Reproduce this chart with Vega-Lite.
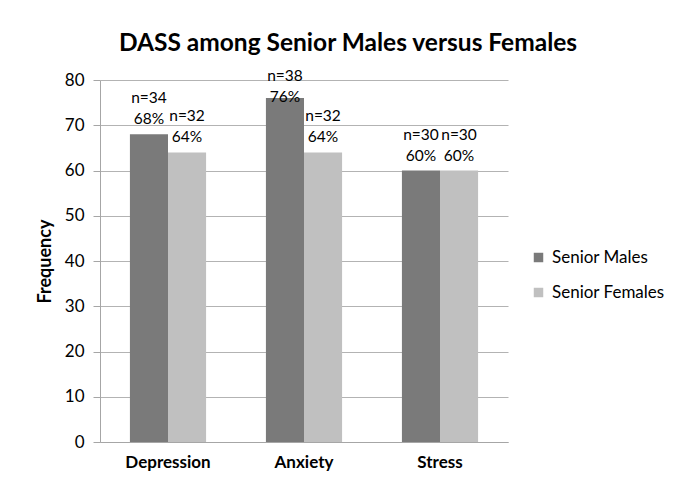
{
  "$schema": "https://vega.github.io/schema/vega-lite/v6.json",
  "width": 408,
  "height": 362,
  "autosize": {"type": "none"},
  "padding": {"left": 100, "top": 80, "right": 175, "bottom": 35},
  "background": "white",
  "title": {
    "text": "DASS among Senior Males versus Females",
    "font": "Lato",
    "fontSize": 24.5,
    "fontWeight": "bold",
    "color": "#000000",
    "anchor": "middle",
    "dx": 44,
    "dy": 10,
    "offset": 22
  },
  "data": {
    "values": [
      {"category": "Depression", "group": "Senior Males", "value": 68, "label": "n=34\n68%"},
      {"category": "Depression", "group": "Senior Females", "value": 64, "label": "n=32\n64%"},
      {"category": "Anxiety", "group": "Senior Males", "value": 76, "label": "n=38\n76%"},
      {"category": "Anxiety", "group": "Senior Females", "value": 64, "label": "n=32\n64%"},
      {"category": "Stress", "group": "Senior Males", "value": 60, "label": "n=30\n60%"},
      {"category": "Stress", "group": "Senior Females", "value": 60, "label": "n=30\n60%"}
    ]
  },
  "encoding": {
    "x": {
      "field": "category",
      "type": "nominal",
      "sort": ["Depression", "Anxiety", "Stress"],
      "scale": {"paddingInner": 0.44, "paddingOuter": 0.22},
      "axis": {
        "title": null,
        "labelAngle": 0,
        "labelFont": "Lato",
        "labelFontSize": 17,
        "labelFontWeight": "bold",
        "labelColor": "#000000",
        "labelPadding": 12,
        "ticks": false,
        "domainColor": "#a6a6a6"
      }
    },
    "xOffset": {
      "field": "group",
      "sort": ["Senior Males", "Senior Females"]
    },
    "y": {
      "field": "value",
      "type": "quantitative",
      "scale": {"domain": [0, 80]},
      "axis": {
        "title": "Frequency",
        "titleFont": "Lato",
        "titleFontSize": 18,
        "titleFontWeight": "bold",
        "titleColor": "#000000",
        "titlePadding": 10,
        "values": [0, 10, 20, 30, 40, 50, 60, 70, 80],
        "labelFont": "Lato",
        "labelFontSize": 17,
        "labelColor": "#000000",
        "labelPadding": 9,
        "tickSize": 7,
        "tickColor": "#a6a6a6",
        "domainColor": "#a6a6a6",
        "gridColor": "#b3b3b3"
      }
    }
  },
  "layer": [
    {
      "mark": {"type": "bar"},
      "encoding": {
        "color": {
          "field": "group",
          "type": "nominal",
          "sort": ["Senior Males", "Senior Females"],
          "scale": {"domain": ["Senior Males", "Senior Females"], "range": ["#7a7a7a", "#c0c0c0"]},
          "legend": {
            "title": null,
            "orient": "none",
            "legendX": 430,
            "legendY": 169,
            "symbolType": "square",
            "symbolSize": 90,
            "labelFont": "Lato",
            "labelFontSize": 17,
            "labelColor": "#000000",
            "rowPadding": 17,
            "labelOffset": 5
          }
        }
      }
    },
    {
      "transform": [{"calculate": "min(datum.value, 73)", "as": "labelPos"}],
      "mark": {
        "type": "text",
        "baseline": "bottom",
        "dy": -28,
        "lineBreak": "\n",
        "lineHeight": 21,
        "font": "Lato",
        "fontSize": 15.5,
        "color": "#000000"
      },
      "encoding": {
        "y": {"field": "labelPos", "type": "quantitative"},
        "text": {"field": "label"}
      }
    }
  ],
  "config": {
    "view": {"stroke": null}
  }
}
